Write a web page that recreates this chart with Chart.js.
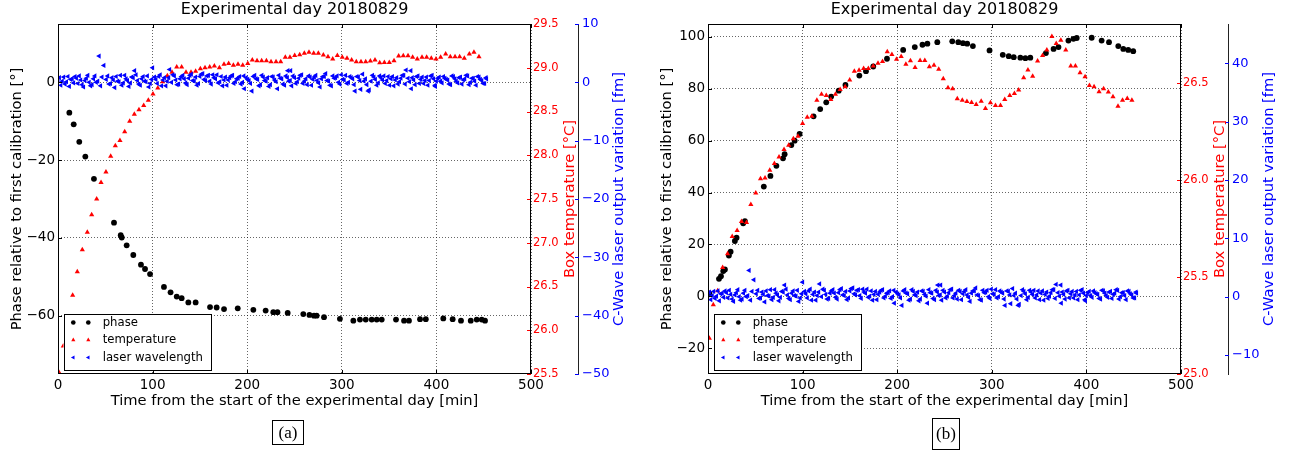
<!DOCTYPE html>
<html>
<head>
<meta charset="utf-8">
<script src="https://cdn.jsdelivr.net/npm/chart.js@4.4.0/dist/chart.umd.min.js"></script>
<style>
  html, body { margin: 0; padding: 0; background: #fff; }
  body { width: 1292px; height: 457px; position: relative; overflow: hidden; }
  .panel { position: absolute; top: 0; width: 642px; height: 457px; }
  .cap {
    position: absolute; border: 1px solid #000; box-sizing: border-box;
    font-family: "Liberation Serif", "DejaVu Serif", serif; font-size: 17px;
    text-align: center; color: #000;
  }
</style>
</head>
<body>
<div class="panel" style="left:0"><canvas id="chartA" width="642" height="457"></canvas></div>
<div class="panel" style="left:650px"><canvas id="chartB" width="642" height="457"></canvas></div>
<div class="cap" style="left:272px;top:420px;width:32px;height:25px;line-height:23px">(a)</div>
<div class="cap" style="left:932px;top:418px;width:28px;height:32px;line-height:30px">(b)</div>

<script>
// ---- tick labels ----
const xTicks = [0, 100, 200, 300, 400, 500];
const phaseTicksA = [-60, -40, -20, 0];
const tempTicksA = [25.5, 26.0, 26.5, 27.0, 27.5, 28.0, 28.5, 29.0, 29.5];
const laserTicksA = [-50, -40, -30, -20, -10, 0, 10];
const phaseTicksB = [-20, 0, 20, 40, 60, 80, 100];
const tempTicksB = [25.0, 25.5, 26.0, 26.5];
const laserTicksB = [-10, 0, 10, 20, 30, 40];

const seriesNames = ['phase', 'temperature', 'laser wavelength'];

// ---- panel (a) ----
const phaseTimeA = [12, 16.6, 22.5, 28.9, 38, 59.2, 66.3, 67.4, 72.6, 79.6,
  87.7, 92, 97.3, 112, 119, 125.5, 130.7, 137.8, 145.5, 160.7,
  167.7, 175.5, 190, 206.5, 219.5, 227.6, 232, 242.8, 259.3, 265.8,
  270.6, 273.4, 281.2, 298, 312.2, 319.2, 325.3, 331.6, 336.9, 342.2,
  357.3, 365.8, 371, 382.7, 388.8, 407.3, 417.2, 426, 436.3, 442.6,
  447.9, 451.4];
const phaseA = [-7.8, -10.8, -15.3, -19.1, -24.8, -36.1, -39.3, -39.9, -41.9, -44.4,
  -46.9, -48, -49.3, -52.6, -54, -55.1, -55.5, -56.6, -56.6, -57.8,
  -57.9, -58.3, -58.1, -58.5, -58.7, -59.1, -59.1, -59.3, -59.6, -59.8,
  -60, -60, -60.4, -60.8, -61.3, -61, -61, -61, -61, -61,
  -61, -61.3, -61.3, -60.9, -60.9, -60.7, -60.9, -61.3, -61.3, -61,
  -61, -61.3];

const tempTimeA = [1, 5.6, 10.5, 15.5, 20.4, 25.7, 31, 35.6, 40.9, 45.5,
  50.7, 55.7, 60.6, 65.5, 70.5, 75.8, 80.7, 85.6, 90.6, 95.5,
  100.4, 105.5, 110.7, 115.6, 120.5, 125.5, 130.7, 135.3, 140.6, 145.5,
  150.5, 155.4, 160.4, 165.3, 170.6, 175.5, 180.4, 185.4, 190.3, 195.3,
  200.6, 205.4, 210.4, 215.3, 220.3, 225.2, 230.5, 235.4, 240.3, 245.2,
  250.2, 255.5, 260.4, 265.3, 270.3, 275.2, 280.5, 285.4, 290.4, 295.3,
  300.5, 305.5, 310.4, 315.3, 320.3, 325.3, 330.2, 335.1, 340.1, 345,
  350.2, 355.2, 360.1, 365, 370, 374.9, 379.8, 384.8, 389.7, 394.6,
  399.6, 404.5, 409.8, 414.7, 419.7, 424.6, 429.5, 434.8, 439.7, 445];
const tempA = [25.52, 25.82, 26.12, 26.40, 26.67, 26.92, 27.12, 27.32, 27.50, 27.69,
  27.81, 27.99, 28.11, 28.17, 28.27, 28.39, 28.47, 28.52, 28.57, 28.63,
  28.70, 28.77, 28.84, 28.91, 28.95, 29.01, 29.01, 28.95, 28.95, 28.96,
  28.99, 29.00, 29.01, 29.02, 29.00, 29.04, 29.05, 29.03, 29.04, 29.03,
  29.05, 29.09, 29.08, 29.08, 29.08, 29.07, 29.07, 29.07, 29.12, 29.12,
  29.14, 29.15, 29.165, 29.176, 29.165, 29.165, 29.146, 29.127, 29.10, 29.14,
  29.12, 29.108, 29.09, 29.07, 29.07, 29.07, 29.077, 29.09, 29.058, 29.06,
  29.06, 29.08, 29.134, 29.138, 29.138, 29.12, 29.10, 29.12, 29.12, 29.108,
  29.10, 29.12, 29.157, 29.127, 29.127, 29.127, 29.108, 29.157, 29.176, 29.127];

// ---- panel (b) ----
const phaseTimeB = [1.4, 11.6, 13.7, 16.1, 17.9, 22.1, 23.9, 28.4, 30.2, 37.2,
  39, 59, 66, 72.3, 79.3, 81, 88.1, 91.6, 96.8, 111.6,
  118.6, 125, 130.2, 138.2, 145.3, 160, 167, 174.7, 189.2, 206.3,
  218.6, 226.7, 231.9, 242.4, 258.2, 264.6, 269.5, 274, 280, 297.6,
  311.6, 317.9, 323.2, 330.2, 335.5, 340.7, 357.2, 365.3, 370.5, 381,
  386.3, 389.8, 405.6, 416.1, 423.9, 433.7, 439, 444.2, 449.5];
const phaseB = [1, 6.7, 7.7, 9.7, 10.3, 15.7, 17.2, 21.3, 22.6, 28.1,
  29, 42.3, 46.4, 50.3, 53.2, 54.8, 58.3, 60, 62.6, 69.4,
  72.2, 74.8, 77, 79.3, 81.5, 85.1, 86.8, 88.6, 91.6, 95,
  96.1, 97, 97.4, 98, 98.3, 98, 97.6, 97.4, 96.5, 94.8,
  93.1, 92.6, 92.2, 92, 91.8, 92, 93.8, 95.4, 96.1, 98.6,
  99.3, 99.6, 99.7, 98.6, 98, 96.5, 95.4, 95, 94.5];

const tempTimeB = [1.4, 5.6, 10.2, 15.5, 20.7, 25.6, 30.8, 35.4, 40.7, 45.3,
  50.5, 55.5, 60.3, 65.3, 70.2, 75.1, 80.4, 85.3, 90.2, 95.1,
  100, 104.9, 109.8, 115.1, 120, 125, 129.8, 134.7, 139.7, 145,
  149.8, 154.7, 159.7, 164.5, 169.5, 174.7, 179.7, 184.5, 189.5, 194.4,
  199.3, 204.2, 209.2, 214, 218.9, 224.2, 229.2, 234, 238.9, 243.9,
  248.7, 253.7, 258.6, 263.5, 268.8, 273.7, 278.6, 283.5, 288.8, 293.3,
  298.6, 303.9, 309.2, 313.7, 319, 323.9, 328.4, 333.7, 338.2, 343.2,
  348.4, 353.7, 358.2, 363.5, 368.1, 373, 378.2, 383.5, 388.4, 393.3,
  398.6, 403.2, 408.1, 413.4, 418.2, 423.2, 428.1, 433.4, 438.2, 443.2, 448.1];
const tempB = [25.185, 25.357, 25.43, 25.55, 25.62, 25.71, 25.74, 25.787, 25.782, 25.875,
  25.934, 26.008, 26.012, 26.051, 26.086, 26.12, 26.158, 26.18, 26.214, 26.227,
  26.293, 26.325, 26.33, 26.413, 26.444, 26.437, 26.417, 26.443, 26.468, 26.482,
  26.517, 26.562, 26.567, 26.577, 26.577, 26.589, 26.603, 26.612, 26.663, 26.648,
  26.624, 26.638, 26.598, 26.617, 26.581, 26.618, 26.618, 26.586, 26.593, 26.572,
  26.524, 26.477, 26.472, 26.42, 26.413, 26.406, 26.401, 26.391, 26.408, 26.37,
  26.4, 26.386, 26.386, 26.417, 26.437, 26.448, 26.465, 26.529, 26.568, 26.537,
  26.615, 26.644, 26.672, 26.741, 26.706, 26.722, 26.672, 26.589, 26.589, 26.555,
  26.534, 26.489, 26.482, 26.457, 26.472, 26.455, 26.431, 26.381, 26.413, 26.422, 26.413];

// laser wavelength (same record in both panels)
const laserTime = [0, 3, 6, 9, 12, 15, 18, 21, 24, 27,
  30, 33, 36, 39, 42, 43.5, 45, 48.5, 51, 54,
  57, 60, 63, 66, 69, 72, 75, 78, 81, 84,
  87, 90, 93, 96, 99, 100, 102, 105, 108, 111,
  114, 117, 118, 120, 123, 126, 129, 132, 135, 138,
  141, 144, 147, 150, 153, 156, 159, 162, 165, 168,
  171, 174, 177, 180, 183, 186, 189, 192, 195, 197,
  199, 202, 205, 208, 211, 214, 217, 220, 223, 226,
  229, 232, 235, 238, 241, 243, 244, 246, 247, 250,
  253, 256, 259, 262, 265, 268, 271, 274, 277, 280,
  283, 286, 289, 292, 295, 298, 301, 304, 307, 310,
  313, 314, 316, 319, 320, 322, 325, 328, 329, 331,
  334, 337, 340, 343, 346, 349, 352, 355, 358, 361,
  364, 367, 368, 370, 373, 373.5, 376, 379, 382, 385,
  388, 391, 394, 397, 399, 400, 403, 406, 409, 412,
  415, 418, 421, 424, 427, 430, 433, 436, 439, 442,
  445, 448, 451, 453];
const laserShift = [0.3, -0.5, 0.9, 0.1, -0.7, 0.6, 1.0, -0.2, 0.4, -0.8,
  0.7, 0.0, -0.4, 1.1, 0.2, 4.5, -0.6, 2.9, 0.5, -0.3,
  0.8, -0.9, 0.2, 1.2, -0.1, 0.6, -0.7, 0.9, 2.0, 0.3,
  -0.5, 1.0, 0.1, -0.8, 0.5, 2.5, 0.9, -0.2, 1.3, 0.4,
  -0.6, 0.8, 2.2, 0.0, 1.1, -0.4, 0.6, 1.2, -0.1, 0.7,
  1.4, 0.2, -0.5, 1.0, 1.5, 0.3, 1.2, -0.3, 0.8, 1.3,
  0.1, -0.6, 0.9, 0.4, 1.1, -0.2, 0.6, 1.0, 0.0, -1.1,
  0.8, 0.3, -1.5, 1.2, 0.5, -0.4, 0.9, 0.2, -0.7, 1.0,
  0.4, -1.1, 0.7, -0.3, 1.1, 2.0, 0.2, 2.0, -0.6, 0.8,
  0.1, 1.2, -0.2, 0.6, 1.1, -0.5, 0.9, 0.3, -0.8, 1.0,
  1.5, 0.2, -0.6, 0.7, 1.1, -0.3, 0.5, 1.2, 0.0, 0.8,
  -0.4, -1.5, 1.0, 0.3, -1.2, 1.4, 0.6, -1.5, -1.3, 0.2,
  0.9, -0.5, 1.1, 0.4, -0.2, 1.0, 0.6, -0.6, 0.8, 0.1,
  1.2, -0.3, 2.1, 0.7, 2.0, -1.1, 0.4, 1.0, -0.2, 0.9,
  0.3, -0.5, 1.1, 0.6, -0.7, 0.2, 0.9, -0.1, 0.7, 0.4,
  -0.4, 1.0, 0.2, 0.8, -0.3, 0.6, 1.1, 0.0, 0.7, -0.5,
  0.9, 0.3, -0.2, 0.6];
// readings that fall between the ones above
const laserTimeMid = [1.5, 4.5, 7.5, 10.5, 13.5, 16.5, 19.5, 22.5, 25.5, 28.5,
  31.5, 34.5, 37.5, 40.5, 46.5, 52.5, 55.5, 58.5, 61.5, 64.5,
  67.5, 70.5, 73.5, 76.5, 79.5, 82.5, 85.5, 88.5, 91.5, 94.5,
  97.5, 103.5, 106.5, 109.5, 112.5, 115.5, 121.5, 124.5, 127.5, 130.5,
  133.5, 136.5, 139.5, 142.5, 145.5, 148.5, 151.5, 154.5, 157.5, 160.5,
  163.5, 166.5, 169.5, 172.5, 175.5, 178.5, 181.5, 184.5, 187.5, 190.5,
  193.5, 196.5, 200.5, 203.5, 206.5, 209.5, 212.5, 215.5, 218.5, 221.5,
  224.5, 227.5, 230.5, 233.5, 236.5, 239.5, 242.5, 245.5, 248.5, 251.5,
  254.5, 257.5, 260.5, 263.5, 266.5, 269.5, 272.5, 275.5, 278.5, 281.5,
  284.5, 287.5, 290.5, 293.5, 296.5, 299.5, 302.5, 305.5, 308.5, 311.5,
  317.5, 323.5, 326.5, 332.5, 335.5, 338.5, 341.5, 344.5, 347.5, 350.5,
  353.5, 356.5, 359.5, 362.5, 365.5, 371.5, 374.5, 377.5, 380.5, 383.5,
  386.5, 389.5, 392.5, 395.5, 398.5, 401.5, 404.5, 407.5, 410.5, 413.5,
  416.5, 419.5, 422.5, 425.5, 428.5, 431.5, 434.5, 437.5, 440.5, 443.5,
  446.5, 449.5, 452.5];
const laserShiftMid = [0.8, 0.2, -0.3, 1.0, 0.5, -0.1, 0.7, 1.1, -0.4, 0.3,
  1.2, -0.6, 0.6, 0.0, 0.9, 1.1, -0.2, 0.4, 1.0, 0.1,
  -0.5, 1.2, 0.3, -0.1, 0.8, 1.3, -0.3, 0.6, 0.2, 1.1,
  -0.2, 0.5, 1.0, -0.6, 0.8, 0.2, 1.3, 0.4, -0.3, 1.0,
  0.6, -0.4, 1.2, 0.3, 0.9, -0.2, 1.4, 0.5, 1.1, 0.2,
  1.3, 0.6, -0.1, 1.0, 0.4, -0.5, 0.8, 1.2, 0.1, 0.7,
  -0.3, 1.1, 0.5, -0.2, 1.0, 0.6, -0.6, 1.2, 0.3, 0.8,
  -0.4, 0.9, 0.1, 1.2, 0.6, -0.5, 0.8, 0.3, 1.1, -0.2,
  0.7, 1.3, 0.2, -0.4, 0.9, 0.5, 1.2, -0.1, 0.6, 1.0,
  0.3, -0.5, 1.1, 0.8, 0.0, 1.3, 0.4, -0.2, 1.0, 0.6,
  0.9, 0.2, -0.4, 1.2, 0.5, -0.1, 0.8, 1.1, 0.3, -0.5,
  1.0, 0.4, -0.3, 0.7, 1.2, 0.1, 0.8, -0.4, 1.1, 0.5,
  -0.2, 0.9, 0.3, 1.2, -0.5, 0.7, 0.2, 1.0, 0.5, -0.3,
  1.1, 0.6, -0.1, 0.9, 0.4, 1.2, -0.4, 0.7, 0.2, 1.0,
  0.5, -0.2, 0.8];

Chart.defaults.font.family = '"DejaVu Sans", sans-serif';
Chart.defaults.color = '#000';

const RED = '#ff0000', BLUE = '#0000ff';
const GRID = 'rgba(0,0,0,0.6)';
const minus = v => String(v).replace('-', '\u2212');
const pts = (ts, vs) => ts.map((t, i) => ({x: t, y: vs[i]}));
const setTicks = list => scale => { scale.ticks = list.map(v => ({value: v})); };
const laserPoints = pts(laserTime, laserShift).concat(pts(laserTimeMid, laserShiftMid));

// frame, inward ticks, right-hand axis titles and legend
const decor = {
  id: 'decor',
  afterDraw(chart, args, opts) {
    const {ctx, chartArea: a, scales} = chart;
    ctx.save();
    ctx.lineWidth = 1;
    const line = (c, x1, y1, x2, y2) => {
      ctx.strokeStyle = c; ctx.beginPath(); ctx.moveTo(x1, y1); ctx.lineTo(x2, y2); ctx.stroke();
    };
    scales.x.ticks.forEach(t => {
      const x = Math.round(scales.x.getPixelForValue(t.value)) + 0.5;
      line('#000', x, a.bottom, x, a.bottom - 4);
      line('#000', x, a.top, x, a.top + 4);
    });
    scales.y.ticks.forEach(t => {
      const y = Math.round(scales.y.getPixelForValue(t.value)) + 0.5;
      line('#000', a.left, y, a.left + 4, y);
    });
    scales.yT.ticks.forEach(t => {
      const y = Math.round(scales.yT.getPixelForValue(t.value)) + 0.5;
      line(RED, a.right - 4, y, a.right, y);
    });
    scales.yL.ticks.forEach(t => {
      const y = Math.round(scales.yL.getPixelForValue(t.value)) + 0.5;
      line(BLUE, scales.yL.left - 3, y, scales.yL.left + 1, y);
    });
    ctx.strokeStyle = '#000';
    ctx.strokeRect(a.left + 0.5, a.top + 0.5, a.right - a.left - 1, a.bottom - a.top - 1);

    // rotated right-hand titles
    ctx.font = '14.7px "DejaVu Sans"';
    ctx.textAlign = 'center';
    ctx.textBaseline = 'middle';
    const cy = (a.top + a.bottom) / 2;
    [[opts.tempTitle, a.right + 39, RED], [opts.laserTitle, scales.yL.left + 41, BLUE]].forEach(([txt, x, c]) => {
      ctx.save();
      ctx.translate(x, cy);
      ctx.rotate(-Math.PI / 2);
      ctx.fillStyle = c;
      ctx.fillText(txt, 0, 0);
      ctx.restore();
    });

    // legend box, lower left
    const lx = a.left + 5.5, ly = a.bottom - 60;
    ctx.fillStyle = '#fff';
    ctx.fillRect(lx, ly, 147, 56);
    ctx.strokeStyle = '#000';
    ctx.strokeRect(Math.round(lx) + 0.5, ly + 0.5, 147, 56);
    ctx.font = '11.7px "DejaVu Sans"';
    ctx.textAlign = 'left';
    chart.data.datasets.forEach((ds, i) => {
      const y = a.bottom - 51.5 + i * 17.5;
      ctx.fillStyle = ds.backgroundColor;
      ctx.strokeStyle = ds.borderColor;
      [15.3, 30.3].forEach(dx => {
        Chart.helpers.drawPoint(ctx, {
          pointStyle: ds.pointStyle, rotation: ds.rotation || 0,
          radius: ds.pointRadius * 0.8, borderWidth: 0
        }, a.left + dx, y);
      });
      ctx.fillStyle = '#000';
      ctx.fillText(ds.label, a.left + 44.7, y);
    });
    ctx.restore();
  }
};

function makePanel(id, p) {
  return new Chart(document.getElementById(id), {
    type: 'scatter',
    data: {
      datasets: [
        {label: seriesNames[0], data: pts(p.phaseTime, p.phase), yAxisID: 'y', order: 3,
         pointStyle: 'circle', pointRadius: 2.9, backgroundColor: '#000', borderColor: '#000', borderWidth: 0},
        {label: seriesNames[1], data: pts(p.tempTime, p.temp), yAxisID: 'yT', order: 2,
         pointStyle: 'triangle', pointRadius: 3, backgroundColor: RED, borderColor: RED, borderWidth: 0},
        {label: seriesNames[2], data: laserPoints, yAxisID: 'yL', order: 1,
         pointStyle: 'triangle', rotation: 270, pointRadius: 3, backgroundColor: BLUE, borderColor: BLUE, borderWidth: 0}
      ]
    },
    options: {
      responsive: false,
      animation: false,
      events: [],
      layout: {padding: {left: 0, right: 14, top: 0, bottom: 43}},
      plugins: {
        legend: {display: false},
        tooltip: {enabled: false},
        title: {
          display: true, text: 'Experimental day 20180829', fullSize: false,
          color: '#000', font: {size: 16, weight: 'normal'}, padding: {top: 0, bottom: 4.8}
        },
        decor: {tempTitle: 'Box temperature [\u00b0C]', laserTitle: 'C-Wave laser output variation [fm]'}
      },
      scales: {
        x: {
          type: 'linear', position: 'bottom', min: 0, max: 500,
          afterBuildTicks: setTicks(xTicks),
          afterFit: s => { s.height = 40; },
          ticks: {font: {size: 13.5}, color: '#000', padding: 3, maxRotation: 0},
          grid: {color: GRID, lineWidth: 1, drawTicks: false},
          border: {display: false, dash: [1, 2]},
          title: {display: true, text: 'Time from the start of the experimental day [min]',
                  font: {size: 14.7}, color: '#000', padding: {top: 0, bottom: 4.2}}
        },
        y: {
          position: 'left', min: p.phaseMin, max: p.phaseMax,
          afterBuildTicks: setTicks(p.phaseTicks),
          afterFit: s => { s.width = 58; },
          ticks: {font: {size: 13.5}, color: '#000', padding: 3, callback: v => minus(v)},
          grid: {color: GRID, lineWidth: 1, drawTicks: false},
          border: {display: false, dash: [1, 2]},
          title: {display: true, text: 'Phase relative to first calibration [\u00b0]',
                  font: {size: 14.7}, color: '#000', padding: {top: 8.2, bottom: 0}}
        },
        yT: {
          position: 'right', min: p.tempMin, max: p.tempMax,
          afterBuildTicks: setTicks(p.tempTicks),
          afterFit: s => { s.width = 47; },
          ticks: {font: {size: 11.5}, color: RED, padding: 2, callback: v => v.toFixed(1)},
          grid: {drawOnChartArea: false, drawTicks: false},
          border: {display: false}
        },
        yL: {
          position: 'right', min: p.laserMin, max: p.laserMax,
          afterBuildTicks: setTicks(p.laserTicks),
          afterFit: s => { s.width = 50; },
          ticks: {font: {size: 13}, color: BLUE, padding: 4, callback: v => minus(v)},
          grid: {drawOnChartArea: false, drawTicks: false},
          border: {display: true, color: '#222', width: 1}
        }
      }
    },
    plugins: [decor]
  });
}

makePanel('chartA', {
  phaseTime: phaseTimeA, phase: phaseA, tempTime: tempTimeA, temp: tempA,
  phaseMin: -75, phaseMax: 15, phaseTicks: phaseTicksA,
  tempMin: 25.5, tempMax: 29.5, tempTicks: tempTicksA,
  laserMin: -50, laserMax: 10, laserTicks: laserTicksA
});

makePanel('chartB', {
  phaseTime: phaseTimeB, phase: phaseB, tempTime: tempTimeB, temp: tempB,
  phaseMin: -30, phaseMax: 105, phaseTicks: phaseTicksB,
  tempMin: 25.0, tempMax: 26.806, tempTicks: tempTicksB,
  laserMin: -13.25, laserMax: 46.75, laserTicks: laserTicksB
});
</script>
</body>
</html>
